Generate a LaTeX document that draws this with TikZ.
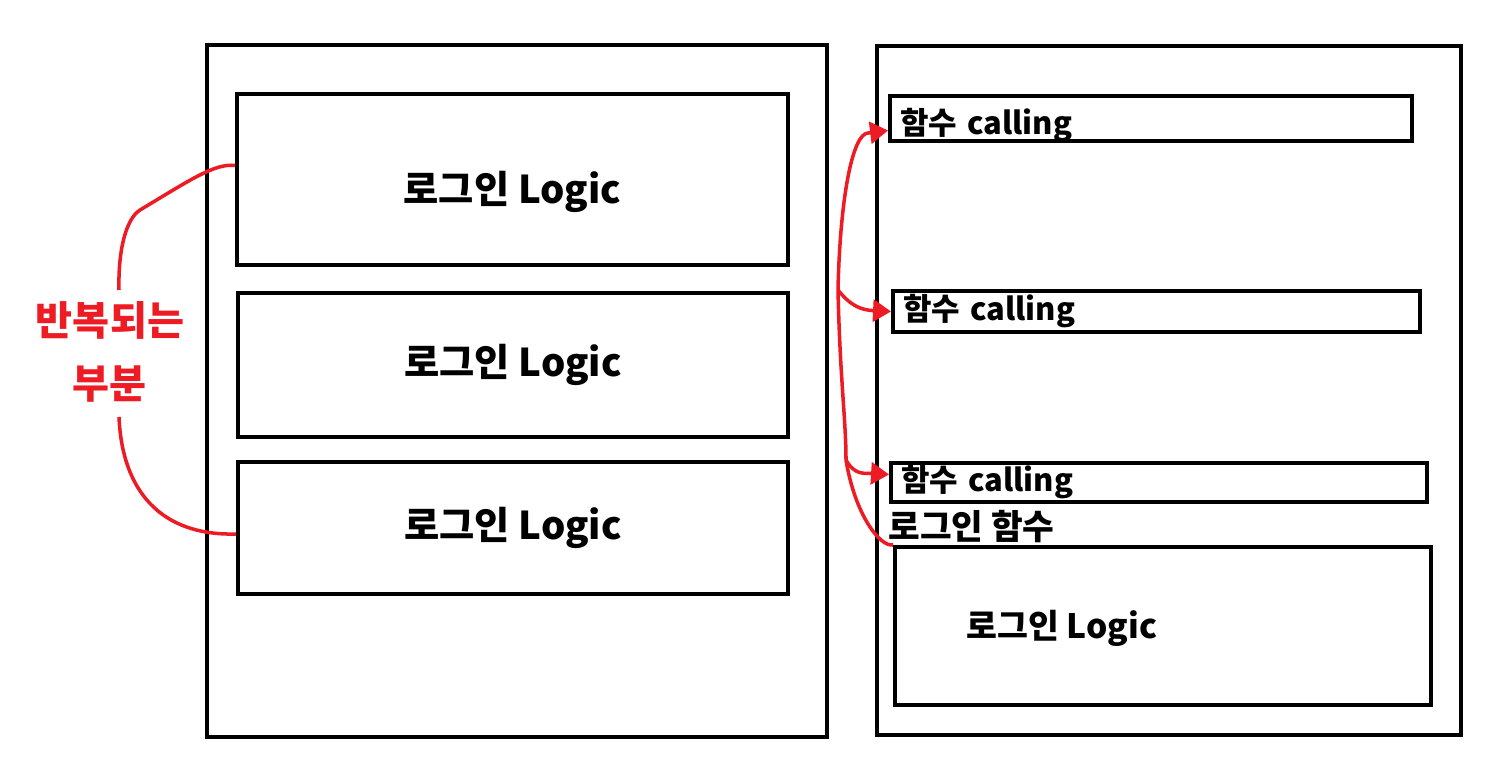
\documentclass[tikz,border=0pt]{standalone}
\usepackage{fontspec}
\setmainfont{Noto Sans CJK KR}
\usepackage{tikz}
\usetikzlibrary{arrows.meta,calc}
\definecolor{mark}{HTML}{ED1C24}

\begin{document}
\begin{tikzpicture}[
  x=0.02cm, y=-0.02cm,
  frame/.style={draw, line width=2.3pt, inner sep=0pt},
  logicbox/.style={draw, line width=2.3pt, font=\fontsize{21.8}{25}\selectfont\bfseries},
  callbox/.style={draw, line width=2.3pt, inner xsep=0.2cm, inner ysep=0pt, text width=10.04cm, align=left, font=\fontsize{17.6}{21}\selectfont\bfseries},
  plain/.style={font=\fontsize{19.6}{23}\selectfont\bfseries, inner sep=0pt},
  redline/.style={draw=mark, line width=2pt},
  tip/.style={-{Triangle[length=0.36cm,width=0.44cm]}},
]
  \useasboundingbox (0,0) rectangle (1497,760);

  % left: logic written three times
  \node[frame, minimum width=12.4cm, minimum height=13.84cm] (left) at (517,391) {};
  \node[logicbox, minimum width=11.02cm, minimum height=3.42cm, text height=1.04cm, text depth=0.09cm] (l1) at (512.5,179.5) {로그인 Logic};
  \node[logicbox, minimum width=11cm, minimum height=2.88cm] (l2) at (513,365) {로그인 Logic};
  \node[logicbox, minimum width=11cm, minimum height=2.64cm] (l3) at (513,528) {로그인 Logic};

  % right: one function, called three times
  \node[frame, minimum width=11.68cm, minimum height=13.78cm] (right) at (1169,390.5) {};
  \node[callbox, minimum height=0.9cm, text height=0.72cm, text depth=0.07cm] (c1) at (1151,118.5) {함수 calling};
  \node[callbox, text width=10.14cm, minimum height=0.82cm] (c2) at (1156.5,311.5) {함수 calling};
  \node[callbox, text width=10.32cm, minimum height=0.78cm] (c3) at (1159,482.5) {함수 calling};
  \node[plain, anchor=west] (fn) at (888,527) {로그인 함수};
  \node[frame, minimum width=10.72cm, minimum height=3.16cm] (lg) at (1163,626) {};
  \node[plain, font=\fontsize{19.1}{23}\selectfont\bfseries] (lgtxt) at (1062,628) {로그인 Logic};

  % red marks
  \node[text=mark, align=center, font=\fontsize{22.9}{36}\selectfont\bfseries] (rep) at (110,352) {반복되는\\부분};
  \draw[redline] ($(l1.west)+(0,-14)$) .. controls (215,163) and (190,180) .. (140,210)
    .. controls (126,219) and (118,250) .. (119,290);
  \draw[redline] (119,417) .. controls (122,490) and (160,536) .. ($(l3.west)+(0,6)$);

  \coordinate (br) at (838,290);
  \coordinate (lo) at (846,460);
  \draw[redline, tip] (br) .. controls (840,200) and (852,134) .. (868,133) -- ($(c1.west)+(0,12)$);
  \draw[redline, tip] (br) .. controls (850,305) and (860,310) .. (c2.west);
  \draw[redline] (br) .. controls (840,380) and (846,420) .. (lo);
  \draw[redline, tip] (lo) .. controls (855,476) and (865,473) .. ($(c3.west)+(0,-8)$);
  \draw[redline] (lo) .. controls (855,515) and (880,547) .. (lg.north west);
\end{tikzpicture}
\end{document}
